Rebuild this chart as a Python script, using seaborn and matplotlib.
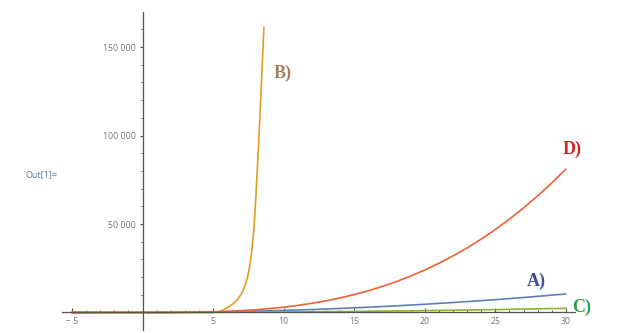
import matplotlib
matplotlib.use("Agg")
import matplotlib.pyplot as plt
import seaborn as sns
import pandas as pd
from matplotlib.ticker import FixedLocator

# ---- data ----
x_a = [-5, -2.5, 0, 2.5, 5, 7.5, 10, 12.5, 15, 17.5, 20, 22.5, 25, 27.5, 30]
y_a = [290, 70, 0, 70, 290, 650, 1160, 1810, 2610, 3550, 4640, 5870, 7250, 8770, 10450]

x_b = [-5, 0, 4, 4.6, 5.0, 5.2, 5.4, 5.6, 5.8, 6.0, 6.3, 6.5, 6.7, 6.85, 7.0, 7.15, 7.3, 7.45,
       7.6, 7.75, 7.9, 8.0, 8.1, 8.2, 8.3, 8.4, 8.5, 8.6]
y_b = [0, 0, 0, 10, 50, 180, 450, 1000, 1800, 2700, 4200, 5600, 7200, 8700, 10500, 12800, 16000, 20200,
       26500, 35500, 48000, 61000, 76000, 91000, 108000, 125000, 143000, 161000]

x_c = [-5, 0, 5, 10, 15, 20, 25, 30]
y_c = [65, 0, 65, 260, 590, 1050, 1630, 2350]

x_d = [-5, -2.5, 0, 2.5, 5, 6, 7, 8, 9, 10, 11, 12, 13, 14, 15, 16, 17, 18, 19, 20,
       21, 22, 23, 24, 25, 26, 27, 28, 29, 30]
y_d = [-370, -50, 0, 50, 380, 650, 1030, 1540, 2190, 3000, 3990, 5180, 6590, 8230, 10130,
       12290, 14740, 17500, 20580, 24000, 27780, 31940, 36500, 41470, 46880, 52730, 59050,
       65860, 73170, 81000]

series_names = ["A)", "B)", "C)", "D)"]
x_major = [-5, 5, 10, 15, 20, 25, 30]
x_major_labels = ["\u2212 5", "5", "10", "15", "20", "25", "30"]
y_major = [50000, 100000, 150000]
y_major_labels = ["50 000", "100 000", "150 000"]

line_colors = ["#5E81B5", "#E19C24", "#8FB032", "#EB6235"]
label_colors = ["#3D4A9E", "#A87C5C", "#2E9E48", "#CC2626"]

sns.set_theme(style="white")
plt.rcParams["font.family"] = ["Open Sans", "DejaVu Sans"]

fig = plt.figure(figsize=(6.24, 3.33), dpi=100)
ax = fig.add_axes([62 / 624, 3 / 333, (575 - 62) / 624, (330 - 12) / 333])

xs = [x_a, x_b, x_c, x_d]
ys = [y_a, y_b, y_c, y_d]
for name, xv, yv, col in zip(series_names, xs, ys, line_colors):
    df = pd.DataFrame({"x": xv, "y": yv})
    sns.lineplot(data=df, x="x", y="y", ax=ax, color=col, linewidth=1.2,
                 estimator=None, sort=False)

ax.set_xlim(-5.71, 30.65)
ax.set_ylim(-9900, 169800)
ax.set_xlabel("")
ax.set_ylabel("")

for s in ["top", "right"]:
    ax.spines[s].set_visible(False)
ax.spines["left"].set_position(("data", 0))
ax.spines["bottom"].set_position(("data", 0))
for s in ["left", "bottom"]:
    ax.spines[s].set_color("#555555")
    ax.spines[s].set_linewidth(0.9)

ax.xaxis.set_major_locator(FixedLocator(x_major))
ax.set_xticklabels(x_major_labels)
ax.xaxis.set_minor_locator(FixedLocator([v for v in range(-5, 31) if v % 5 != 0]))
ax.yaxis.set_major_locator(FixedLocator(y_major))
ax.set_yticklabels(y_major_labels)
ax.yaxis.set_minor_locator(FixedLocator([v for v in range(10000, 170000, 10000) if v % 50000 != 0]))

ax.tick_params(axis="x", which="both", bottom=True, direction="in", colors="#555555",
               labelcolor="#777777", labelsize=6.3, pad=3)
ax.tick_params(axis="x", which="major", length=2.6, width=0.8)
ax.tick_params(axis="x", which="minor", length=1.8, width=0.7)
ax.tick_params(axis="y", which="both", left=True, direction="out", colors="#555555",
               labelcolor="#777777", labelsize=6.3, pad=2.5)
ax.tick_params(axis="y", which="major", length=2.2, width=0.8)
ax.tick_params(axis="y", which="minor", length=1.5, width=0.7)
ax.grid(False)

label_pos = [(27.9, 15140), (9.95, 132300), (31.12, 100), (30.47, 89500)]
for name, (lx, ly), col in zip(series_names, label_pos, label_colors):
    ax.text(lx, ly, name, color=col, fontsize=13, fontweight="bold",
            family=["Liberation Serif", "DejaVu Serif"], ha="center", va="baseline",
            clip_on=False)

fig.text(25 / 624, 1 - 177 / 333, "Out[1]=", color="#5B7896", fontsize=6.5,
         ha="left", va="baseline")

fig.savefig("out.png", dpi=100, facecolor="white")
